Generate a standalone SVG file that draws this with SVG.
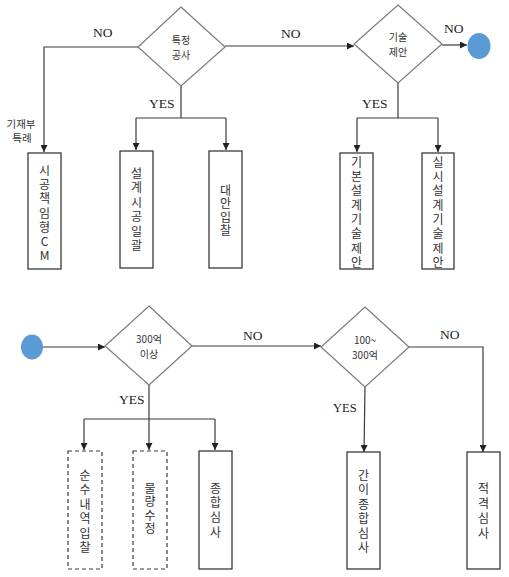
<svg xmlns="http://www.w3.org/2000/svg" width="509" height="577" viewBox="0 0 509 577">
<defs>
<style>
.ln{fill:none;stroke:#3a3a3a;stroke-width:1.2}
.dia{fill:#fff;stroke:#7a7a7a;stroke-width:1.2}
.box{fill:#fff;stroke:#3a3a3a;stroke-width:1.3}
.dbox{fill:#fff;stroke:#3a3a3a;stroke-width:1.2;stroke-dasharray:4 3}
.dot{fill:#5b9bd5}
.lbl{font-family:"Liberation Serif","DejaVu Serif",serif;font-size:13.5px;fill:#222}
.dt{font-family:"Noto Sans CJK KR","Noto Sans",sans-serif;font-size:10px;fill:#333;text-anchor:middle}
.bt{font-family:"Noto Sans CJK KR","Noto Sans",sans-serif;font-size:12px;fill:#333;text-anchor:middle}
.note{font-family:"Noto Sans CJK KR","Noto Sans",sans-serif;font-size:10.5px;fill:#333;text-anchor:middle}
</style>
<marker id="ah" viewBox="0 0 10 10" refX="10" refY="5" markerWidth="7" markerHeight="7" markerUnits="userSpaceOnUse" orient="auto">
<path d="M0,0 L10,5 L0,10 z" fill="#222"/>
</marker>
</defs>

<g id="connectors">
<path class="ln" d="M138,47 H44 V152" marker-end="url(#ah)"/>
<path class="ln" d="M225,46 H354" marker-end="url(#ah)"/>
<path class="ln" d="M442,45 H467" marker-end="url(#ah)"/>
<path class="ln" d="M181,86 V118"/>
<path class="ln" d="M136,118 H226"/>
<path class="ln" d="M136,118 V150" marker-end="url(#ah)"/>
<path class="ln" d="M226,118 V150" marker-end="url(#ah)"/>
<path class="ln" d="M398,83 V118"/>
<path class="ln" d="M357,118 H438"/>
<path class="ln" d="M357,118 V152" marker-end="url(#ah)"/>
<path class="ln" d="M438,118 V152" marker-end="url(#ah)"/>
<path class="ln" d="M43,347 H105" marker-end="url(#ah)"/>
<path class="ln" d="M192,346 H321" marker-end="url(#ah)"/>
<path class="ln" d="M149,385 V419"/>
<path class="ln" d="M84,419 H215"/>
<path class="ln" d="M84,419 V450" marker-end="url(#ah)"/>
<path class="ln" d="M149,419 V450" marker-end="url(#ah)"/>
<path class="ln" d="M215,419 V450" marker-end="url(#ah)"/>
<path class="ln" d="M365,387 L364,452" marker-end="url(#ah)"/>
<path class="ln" d="M409,347 H483 V452" marker-end="url(#ah)"/>
</g>

<g id="labels">
<text class="lbl" x="93" y="37">NO</text>
<text class="lbl" x="281" y="38">NO</text>
<text class="lbl" x="444" y="33">NO</text>
<text class="lbl" x="149" y="108">YES</text>
<text class="lbl" x="362" y="108">YES</text>
<text class="lbl" x="119" y="404">YES</text>
<text class="lbl" x="243" y="340">NO</text>
<text class="lbl" x="440" y="339">NO</text>
<text class="lbl" x="333" y="412" style="font-size:12.5px">YES</text>
<text class="note"><tspan x="21" y="128">기재부</tspan><tspan x="22" y="142">특례</tspan></text>
</g>

<g id="d-special">
<polygon class="dia" points="181,7 225,47 181,86 138,47"/>
<text class="dt"><tspan x="181" y="44">특정</tspan><tspan x="181" y="59">공사</tspan></text>
</g>
<g id="d-tech">
<polygon class="dia" points="398,5 442,44 398,83 354,44"/>
<text class="dt"><tspan x="398" y="41">기술</tspan><tspan x="398" y="56">제안</tspan></text>
</g>
<g id="end-dot">
<ellipse class="dot" cx="479" cy="46" rx="11.5" ry="13"/>
</g>

<g id="b-cm">
<rect class="box" x="28" y="153" width="33" height="116"/>
<text class="bt"><tspan x="44.5" y="175">시</tspan><tspan x="44.5" y="189">공</tspan><tspan x="44.5" y="203">책</tspan><tspan x="44.5" y="218">임</tspan><tspan x="44.5" y="232">형</tspan><tspan x="44.5" y="246">C</tspan><tspan x="44.5" y="260">M</tspan></text>
</g>
<g id="b-turnkey">
<rect class="box" x="120" y="151" width="33" height="117"/>
<text class="bt"><tspan x="136.5" y="178">설</tspan><tspan x="136.5" y="192">계</tspan><tspan x="136.5" y="207">시</tspan><tspan x="136.5" y="221">공</tspan><tspan x="136.5" y="236">일</tspan><tspan x="136.5" y="250">괄</tspan></text>
</g>
<g id="b-alt">
<rect class="box" x="209" y="151" width="33" height="117"/>
<text class="bt"><tspan x="225.5" y="195">대</tspan><tspan x="225.5" y="208">안</tspan><tspan x="225.5" y="222">입</tspan><tspan x="225.5" y="235">찰</tspan></text>
</g>
<g id="b-basic">
<rect class="box" x="340" y="153" width="33" height="116"/>
<text class="bt"><tspan x="356.5" y="167">기</tspan><tspan x="356.5" y="181">본</tspan><tspan x="356.5" y="195">설</tspan><tspan x="356.5" y="210">계</tspan><tspan x="356.5" y="224">기</tspan><tspan x="356.5" y="238">술</tspan><tspan x="356.5" y="253">제</tspan><tspan x="356.5" y="267">안</tspan></text>
</g>
<g id="b-detail">
<rect class="box" x="422" y="153" width="32" height="116"/>
<text class="bt"><tspan x="438" y="167">실</tspan><tspan x="438" y="181">시</tspan><tspan x="438" y="195">설</tspan><tspan x="438" y="210">계</tspan><tspan x="438" y="224">기</tspan><tspan x="438" y="238">술</tspan><tspan x="438" y="253">제</tspan><tspan x="438" y="267">안</tspan></text>
</g>

<g id="start-dot">
<ellipse class="dot" cx="32" cy="347" rx="11" ry="12.5"/>
</g>
<g id="d-300">
<polygon class="dia" points="149,306 192,346 149,385 105,346"/>
<text class="dt"><tspan x="149" y="343">300억</tspan><tspan x="149" y="358">이상</tspan></text>
</g>
<g id="d-100">
<polygon class="dia" points="365,307 409,347 365,387 321,347"/>
<text class="dt"><tspan x="365" y="344">100~</tspan><tspan x="365" y="359">300억</tspan></text>
</g>

<g id="b-net">
<rect class="dbox" x="68" y="451" width="34" height="118"/>
<text class="bt"><tspan x="85" y="480">순</tspan><tspan x="85" y="494">수</tspan><tspan x="85" y="509">내</tspan><tspan x="85" y="523">역</tspan><tspan x="85" y="538">입</tspan><tspan x="85" y="552">찰</tspan></text>
</g>
<g id="b-qty">
<rect class="dbox" x="133" y="451" width="34" height="118"/>
<text class="bt"><tspan x="150" y="493">물</tspan><tspan x="150" y="506">량</tspan><tspan x="150" y="520">수</tspan><tspan x="150" y="533">정</tspan></text>
</g>
<g id="b-comp">
<rect class="box" x="199" y="451" width="33" height="118"/>
<text class="bt"><tspan x="215.5" y="493">종</tspan><tspan x="215.5" y="507">합</tspan><tspan x="215.5" y="522">심</tspan><tspan x="215.5" y="537">사</tspan></text>
</g>
<g id="b-simple">
<rect class="box" x="347" y="452" width="33" height="117"/>
<text class="bt"><tspan x="363.5" y="480">간</tspan><tspan x="363.5" y="494">이</tspan><tspan x="363.5" y="509">종</tspan><tspan x="363.5" y="523">합</tspan><tspan x="363.5" y="538">심</tspan><tspan x="363.5" y="552">사</tspan></text>
</g>
<g id="b-qual">
<rect class="box" x="467" y="452" width="33" height="117"/>
<text class="bt"><tspan x="483.5" y="493">적</tspan><tspan x="483.5" y="508">격</tspan><tspan x="483.5" y="523">심</tspan><tspan x="483.5" y="538">사</tspan></text>
</g>
</svg>
